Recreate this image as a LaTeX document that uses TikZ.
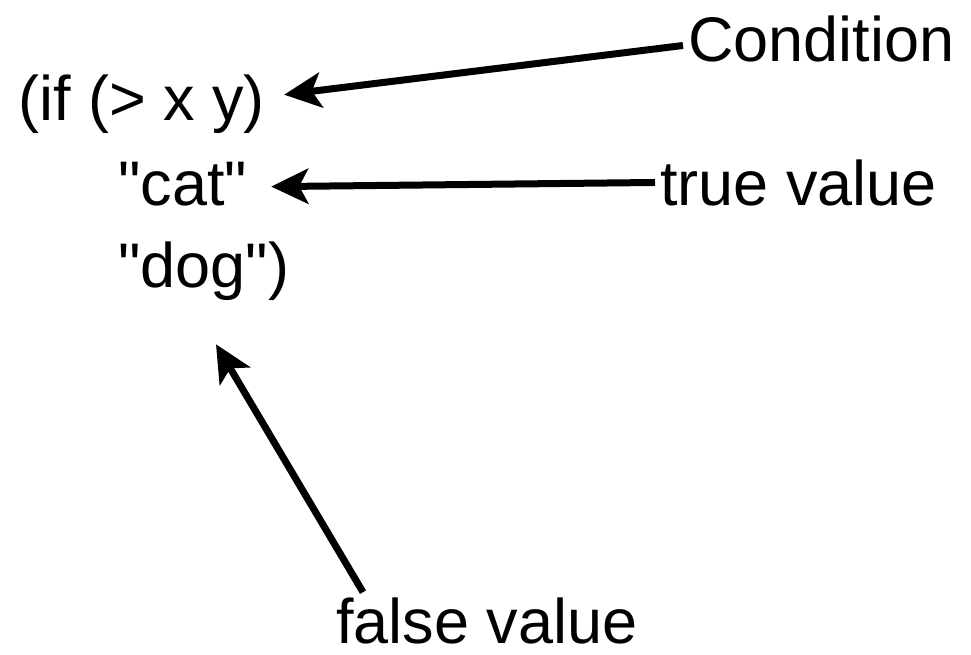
\documentclass[tikz,border=0pt]{standalone}
\usepackage{fontspec}
\setmainfont{Liberation Sans}
\usetikzlibrary{arrows.meta,calc}
\begin{document}
\begin{tikzpicture}[x=1pt,y=-1pt,
  txt/.style={inner sep=0pt, anchor=base west, font=\fontsize{63}{75}\selectfont},
  arr/.style={line width=7pt, -{Stealth[length=37pt,width=35pt,inset=9pt]}}]
  \useasboundingbox (0,0) rectangle (971,655);
  % code lines
  \node[txt] (ifx) at (18,121) {(if (> x y)};
  \node[txt] (cat) at (118,205) {\textquotedbl cat\textquotedbl};
  \node[txt] (dog) at (118,287) {\textquotedbl dog\textquotedbl)};
  % labels
  \node[txt] (cond) at (688,62) {Condition};
  \node[txt] (truev) at (660,205) {true value};
  \node[txt] (falsev) at (336,643) {false value};
  % pointers from labels to the parts of the expression
  \draw[arr] ($(cond.west)+(-5,6)$) -- ($(ifx.east)+(19,-10)$);
  \draw[arr] ($(truev.west)+(-5,0)$) -- ($(cat.east)+(24,3)$);
  \draw[arr] ($(falsev.north west)+(27,-5)$) -- ($(dog.south west)+(98,44)$);
\end{tikzpicture}
\end{document}
